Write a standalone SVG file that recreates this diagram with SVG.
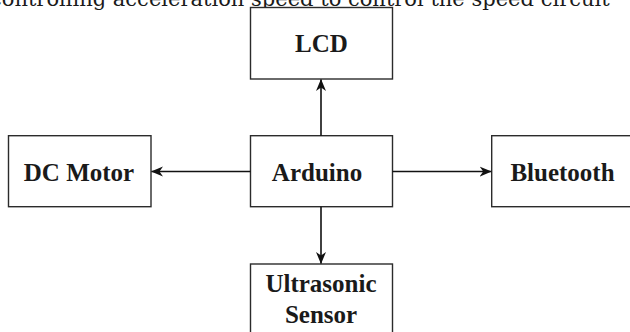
<svg xmlns="http://www.w3.org/2000/svg" width="630" height="332" viewBox="0 0 630 332">
<style>
.box{fill:#ffffff;stroke:#2b2b2b;stroke-width:1.4}
.lbl{font-family:"Liberation Serif","Times New Roman",serif;font-weight:bold;font-size:25px;fill:#1a1a1a;text-anchor:middle}
.edge{fill:none;stroke:#111111;stroke-width:1.6}
.cap{font-family:"DejaVu Serif",serif;font-size:21px;fill:#1a1a1a}
</style>
<defs>
<marker id="arr" markerUnits="userSpaceOnUse" markerWidth="13" markerHeight="11" refX="11.5" refY="5.5" orient="auto">
<path d="M0,0.5 L12,5.5 L0,10.5 L3.5,5.5 z" fill="#111111"/>
</marker>
</defs>
<text class="cap" x="-10" y="5.5">controlling acceleration speed to control the speed circuit</text>
<g id="lcd">
<rect class="box" x="250.5" y="7.5" width="142" height="71.5"/>
<text class="lbl" x="321.5" y="52">LCD</text>
</g>
<g id="arduino">
<rect class="box" x="250.5" y="135.7" width="142" height="71"/>
<text class="lbl" x="317" y="181">Arduino</text>
</g>
<g id="dcmotor">
<rect class="box" x="8.5" y="135.7" width="142.5" height="71"/>
<text class="lbl" x="79" y="181">DC Motor</text>
</g>
<g id="bluetooth">
<rect class="box" x="491.7" y="135.7" width="143" height="71"/>
<text class="lbl" x="562.5" y="181">Bluetooth</text>
</g>
<g id="ultrasonic">
<rect class="box" x="250.5" y="264" width="142" height="75"/>
<text class="lbl" x="321" y="291.5">Ultrasonic</text>
<text class="lbl" x="321" y="322.5">Sensor</text>
</g>
<g id="connectors">
<line class="edge" x1="321" y1="135.7" x2="321" y2="79.5" marker-end="url(#arr)"/>
<line class="edge" x1="250.5" y1="171.5" x2="151.5" y2="171.5" marker-end="url(#arr)"/>
<line class="edge" x1="392.5" y1="171.5" x2="491.2" y2="171.5" marker-end="url(#arr)"/>
<line class="edge" x1="321" y1="206.7" x2="321" y2="263.5" marker-end="url(#arr)"/>
</g>
</svg>
